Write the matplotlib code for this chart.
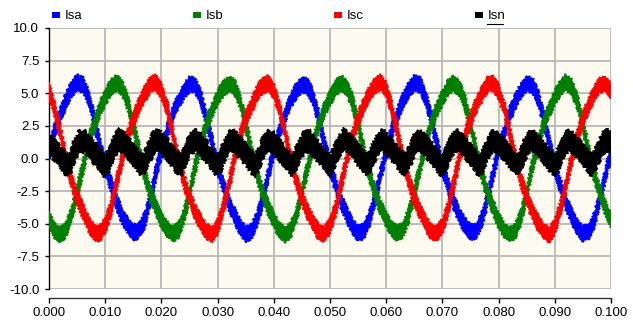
import matplotlib
matplotlib.use("Agg")
import matplotlib.pyplot as plt
import numpy as np
from matplotlib.patches import Rectangle
from matplotlib.lines import Line2D

plt.rcParams['font.family'] = ['Liberation Sans', 'DejaVu Sans']
plt.rcParams['axes.unicode_minus'] = False

# sample times (s): phase currents every 1 ms, neutral every 0.5 ms
t_phase = np.arange(101) * 0.001
t_neutral = np.arange(201) * 0.0005

# phase currents (centre of the noisy band)
isa = [0.50, 2.10, 3.30, 4.45, 5.30, 5.85, 5.65, 4.75, 3.05, 1.15, -0.65, -1.95, -3.30, -4.40, -5.15, -5.65, -5.55, -4.75, -3.10, -1.20,
       0.60, 2.00, 3.40, 4.35, 5.15, 5.70, 5.60, 4.65, 3.15, 1.25, -0.55, -2.10, -3.40, -4.35, -5.25, -5.80, -5.65, -4.70, -3.20, -1.30,
       0.55, 2.05, 3.30, 4.40, 5.20, 5.65, 5.55, 4.70, 3.10, 1.20, -0.60, -2.00, -3.35, -4.30, -5.20, -5.75, -5.60, -4.65, -3.10, -1.25,
       0.50, 2.10, 3.35, 4.45, 5.25, 5.80, 5.65, 4.75, 3.05, 1.15, -0.65, -2.05, -3.30, -4.40, -5.15, -5.65, -5.55, -4.70, -3.15, -1.20,
       0.55, 2.00, 3.40, 4.40, 5.20, 5.75, 5.60, 4.70, 3.15, 1.25, -0.60, -2.10, -3.40, -4.35, -5.25, -5.75, -5.60, -4.75, -3.15, -1.30,
       0.55]
isb = [-4.65, -5.55, -5.85, -5.45, -4.35, -2.60, -0.75, 1.15, 2.50, 3.75, 4.65, 5.45, 5.80, 5.40, 4.30, 2.55, 0.70, -1.10, -2.65, -3.70,
       -4.75, -5.40, -5.75, -5.55, -4.45, -2.70, -0.65, 1.05, 2.60, 3.65, 4.70, 5.35, 5.70, 5.50, 4.40, 2.65, 0.60, -1.20, -2.55, -3.80,
       -4.70, -5.50, -5.85, -5.50, -4.40, -2.60, -0.70, 1.10, 2.55, 3.70, 4.60, 5.40, 5.80, 5.45, 4.35, 2.60, 0.65, -1.15, -2.60, -3.75,
       -4.65, -5.45, -5.75, -5.45, -4.35, -2.65, -0.75, 1.15, 2.50, 3.75, 4.65, 5.45, 5.75, 5.40, 4.30, 2.55, 0.70, -1.10, -2.65, -3.70,
       -4.75, -5.50, -5.80, -5.55, -4.45, -2.70, -0.65, 1.05, 2.60, 3.70, 4.70, 5.40, 5.85, 5.50, 4.40, 2.65, 0.60, -1.20, -2.55, -3.80,
       -4.70]
isc = [5.25, 3.80, 2.05, 0.00, -1.60, -3.05, -4.00, -5.00, -5.65, -5.75, -5.15, -3.90, -1.95, -0.10, 1.70, 2.95, 4.10, 4.90, 5.65, 5.85,
       5.15, 3.90, 1.95, 0.10, -1.70, -2.95, -4.10, -4.90, -5.55, -5.85, -5.25, -3.80, -2.05, 0.00, 1.60, 3.05, 4.00, 5.00, 5.55, 5.75,
       5.20, 3.85, 2.00, 0.05, -1.65, -3.00, -4.05, -4.95, -5.65, -5.80, -5.20, -3.85, -2.00, -0.05, 1.65, 3.00, 4.05, 4.95, 5.60, 5.85,
       5.25, 3.80, 2.05, 0.00, -1.60, -3.05, -4.00, -5.00, -5.60, -5.75, -5.15, -3.90, -1.95, -0.10, 1.70, 2.95, 4.10, 4.90, 5.65, 5.80,
       5.15, 3.90, 1.95, 0.10, -1.70, -2.95, -4.10, -4.90, -5.55, -5.85, -5.25, -3.80, -2.05, 0.00, 1.60, 3.05, 4.00, 5.00, 5.60, 5.75,
       5.20]
# neutral current (centre of band)
isn = [1.05, 1.00, 0.60, 0.50, 0.05, -0.10, -0.50, -0.40, -0.10, 0.60, 0.90, 1.40, 1.30, 1.30, 0.90, 0.85, 0.40, 0.30, -0.15, -0.25,
       -0.65, -0.10, 0.25, 0.90, 1.15, 1.50, 1.20, 1.15, 0.75, 0.65, 0.25, 0.10, -0.35, -0.45, -0.40, 0.25, 0.60, 1.20, 1.30, 1.45,
       1.10, 0.85, 0.75, 0.35, 0.20, -0.25, -0.35, -0.55, 0.10, 0.40, 1.05, 1.20, 1.45, 1.15, 1.10, 0.65, 0.60, 0.15, 0.00, -0.45,
       -0.50, -0.25, 0.40, 0.75, 1.30, 1.35, 1.35, 1.00, 0.90, 0.50, 0.40, -0.05, -0.20, -0.60, -0.25, 0.10, 0.75, 1.00, 1.45, 1.25,
       1.20, 0.95, 0.60, 0.45, 0.10, -0.15, -0.50, -0.40, 0.05, 0.55, 0.90, 1.35, 1.30, 1.30, 0.95, 0.80, 0.45, 0.30, -0.10, -0.30,
       -0.65, -0.10, 0.30, 0.90, 1.15, 1.55, 1.25, 1.15, 0.80, 0.60, 0.30, 0.10, -0.30, -0.50, -0.35, 0.20, 0.65, 1.15, 1.30, 1.40,
       1.10, 0.90, 0.70, 0.40, 0.15, -0.20, -0.40, -0.50, 0.05, 0.45, 1.00, 1.25, 1.40, 1.20, 1.05, 0.70, 0.55, 0.20, -0.05, -0.40,
       -0.55, -0.20, 0.35, 0.80, 1.25, 1.40, 1.30, 1.05, 0.85, 0.55, 0.35, 0.00, -0.25, -0.55, -0.30, 0.15, 0.70, 1.05, 1.40, 1.30,
       1.15, 0.95, 0.65, 0.45, 0.10, -0.15, -0.45, -0.45, 0.00, 0.55, 0.95, 1.30, 1.35, 1.25, 1.00, 0.80, 0.45, 0.25, -0.10, -0.35,
       -0.60, -0.15, 0.30, 0.85, 1.20, 1.45, 1.25, 1.10, 0.80, 0.60, 0.30, 0.05, -0.30, -0.50, -0.30, 0.20, 0.65, 1.15, 1.35, 1.40,
       1.15]

names = ['Isa', 'Isb', 'Isc', 'Isn']
colors = ['#0000ff', '#008000', '#ff0000', '#000000']
x_ticks = [0.0, 0.01, 0.02, 0.03, 0.04, 0.05, 0.06, 0.07, 0.08, 0.09, 0.1]
y_ticks = [-10.0, -7.5, -5.0, -2.5, 0.0, 2.5, 5.0, 7.5, 10.0]

W, H = 633, 320
fig = plt.figure(figsize=(W / 100, H / 100), dpi=100)
ax = fig.add_axes([49 / W, 31 / H, 562 / W, 261 / H])
ax.set_facecolor('#fdfbef')

# (times, values, band half-height, edge roughness in px, edge width)
series = [(t_phase, isa, 0.6, 1.0, 0.8), (t_phase, isb, 0.6, 1.0, 0.8), (t_phase, isc, 0.6, 1.0, 0.8),
          (t_neutral, isn, 0.8, 1.4, 1.2)]
for (t, y, half, rough, ew), c in zip(series, colors):
    t = np.asarray(t)
    y = np.asarray(y)
    # noisy band drawn as one polygon so the sketch roughness applies to its outline
    poly, = ax.fill(np.r_[t, t[::-1]], np.r_[y + half, (y - half)[::-1]],
                    facecolor=c, edgecolor=c, lw=ew, zorder=3)
    poly.set_sketch_params(scale=rough, length=2.0, randomness=4)

ax.set_xlim(0, 0.1)
ax.set_ylim(-10, 10)
ax.set_xticks(x_ticks)
ax.set_yticks(y_ticks)
ax.set_xticklabels([f'{v:.3f}' for v in x_ticks])
ax.set_yticklabels([f'{v:.1f}' for v in y_ticks])
ax.grid(True, color='#b8b8b8', lw=1.3, zorder=1)
ax.set_axisbelow(True)
ax.get_xgridlines()[-1].set_visible(False)

for s in ['top', 'right']:
    ax.spines[s].set_visible(False)
ax.spines['left'].set_color('black')
ax.spines['left'].set_linewidth(1.0)
ax.spines['bottom'].set_position(('outward', 6.5))
ax.spines['bottom'].set_color('#333333')
ax.spines['bottom'].set_linewidth(1.0)
ax.tick_params(axis='x', direction='out', length=3.6, width=1, pad=2.5, labelsize=9.5, colors='black')
ax.tick_params(axis='y', direction='out', length=3, width=1, pad=4, labelsize=9.5, colors='black')

# legend row across the top
for i, (name, c) in enumerate(zip(names, colors)):
    sx = 52 + 141 * i
    fig.add_artist(Rectangle((sx / W, 1 - 18 / H), 8 / W, 6 / H, transform=fig.transFigure,
                             facecolor=c, edgecolor='none'))
    fig.text((sx + 13) / W, 1 - 16 / H, name, fontsize=9.5, va='center', ha='left')
fig.add_artist(Line2D([487 / W, 503 / W], [1 - 23.5 / H, 1 - 23.5 / H], color='black', lw=0.8,
                      transform=fig.transFigure))

fig.savefig('out.png', dpi=100)
